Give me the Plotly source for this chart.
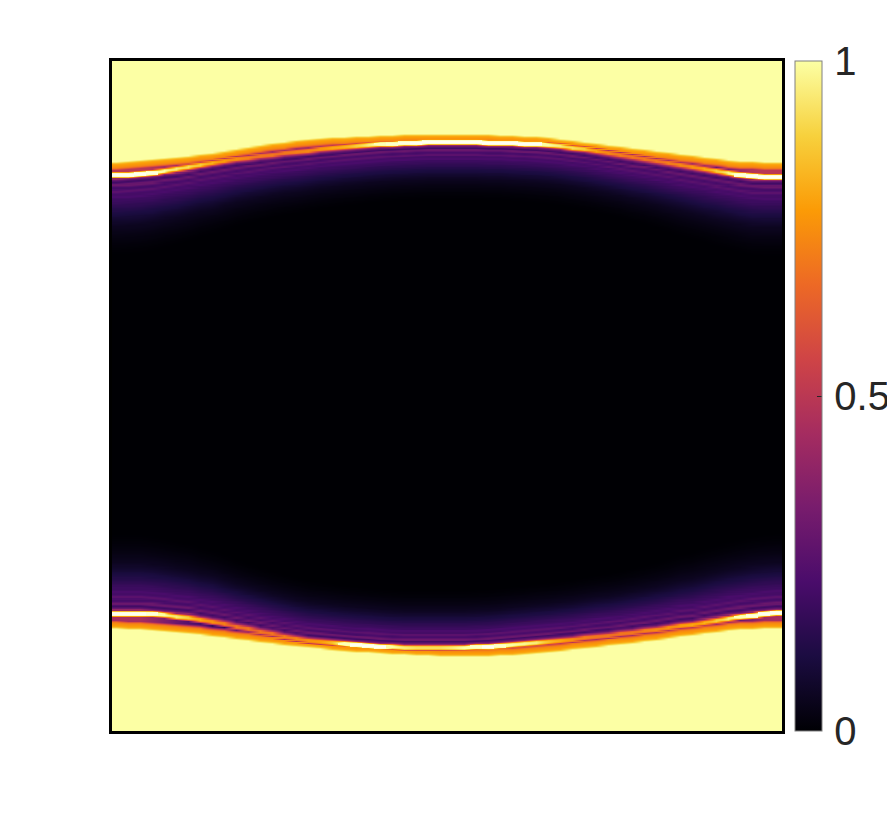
import plotly.graph_objects as go

# columns of the map, one every 12 px, values in pixel coordinates
x_cols = list(range(116, 788, 12))
y_rows = list(range(59, 733))

top_edge = [161.5, 161, 160, 159, 158, 157, 155.5, 154,
	152.5, 150.5, 148.5, 146.5, 144.5, 143, 141.5, 140,
	139, 138, 137, 136.5, 136, 135.5, 135, 134.5,
	134, 134, 133.5, 133.5, 133.5, 133.5, 133.5, 134,
	134.5, 135, 135.5, 136, 137, 138.5, 140, 141.5,
	143, 144.5, 146, 147.5, 149, 150.5, 152, 153.5,
	155, 156.5, 158, 159.5, 160.5, 161, 161.5, 161.5]
top_line = [174, 173.5, 172.5, 171.5, 169.5, 168, 166, 164,
	162, 160, 158, 156.5, 155, 153.5, 152, 151,
	149.5, 148, 147, 146, 145, 144, 143, 142.5,
	142, 141.5, 141, 141, 141, 141, 141, 141.5,
	141.5, 142, 142.5, 143, 144, 145, 146.5, 148,
	150, 152, 154, 156, 157.5, 159.5, 161.5, 163.5,
	165.5, 167.5, 169.5, 171.5, 173.5, 175, 175.5, 175.5]
top_peak = [1.2, 1.2, 1.2, 1.15, 1.0, 0.95, 0.92, 0.88,
	0.82, 0.78, 0.75, 0.72, 0.7, 0.7, 0.7, 0.72,
	0.74, 0.76, 0.8, 0.82, 0.88, 0.95, 1.05, 1.1,
	1.15, 1.2, 1.2, 1.2, 1.2, 1.2, 1.2, 1.2,
	1.2, 1.2, 1.2, 1.2, 1.0, 0.95, 0.92, 0.88,
	0.8, 0.74, 0.72, 0.7, 0.7, 0.7, 0.72, 0.74,
	0.76, 0.8, 0.88, 0.97, 1.15, 1.2, 1.2, 1.2]
top_valley = [0.5, 0.5, 0.5, 0.48, 0.45, 0.42, 0.36, 0.3,
	0.25, 0.2, 0.18, 0.16, 0.15, 0.15, 0.15, 0.16,
	0.18, 0.2, 0.24, 0.28, 0.33, 0.38, 0.4, 0.42,
	0.44, 0.45, 0.45, 0.45, 0.45, 0.45, 0.45, 0.42,
	0.38, 0.34, 0.3, 0.24, 0.2, 0.17, 0.15, 0.14,
	0.13, 0.13, 0.13, 0.13, 0.13, 0.14, 0.16, 0.18,
	0.2, 0.24, 0.28, 0.35, 0.42, 0.48, 0.5, 0.5]

bottom_edge = [628.5, 629, 629.5, 630, 631, 632, 633, 634.5,
	636, 637.5, 639, 640.5, 642, 643.5, 645, 646,
	647.5, 648.5, 650, 651, 652, 652.5, 653.5, 654,
	654.5, 655, 655.5, 656, 656.5, 656.5, 656.5, 656,
	655.5, 655, 654, 653, 652, 651, 649.5, 648.5,
	647, 645.5, 644.5, 643, 641.5, 640, 638.5, 636.5,
	635, 633, 632, 630.5, 629.5, 629, 628.5, 628.5]
bottom_line = [614, 614, 614, 614.5, 615.5, 617, 618, 620,
	622, 624.5, 627, 629.5, 632, 634.5, 637, 639.5,
	641.5, 642.5, 643.5, 644.5, 645.5, 646, 647, 647.5,
	648, 648, 648, 648, 648, 648, 647.5, 647,
	646, 645, 644, 643, 642, 641, 640, 638.5,
	637, 636, 634.5, 633, 631.5, 630, 628.5, 626.5,
	625, 623, 621, 619, 617.5, 616, 614.5, 613.5]
bottom_peak = [1.2, 1.2, 1.2, 1.15, 1.0, 0.95, 0.88, 0.8,
	0.76, 0.72, 0.7, 0.7, 0.7, 0.7, 0.72, 0.74,
	0.76, 0.78, 0.85, 1.05, 1.2, 1.2, 1.2, 1.0,
	0.95, 0.92, 0.92, 0.92, 0.95, 1.0, 1.1, 1.2,
	1.1, 1.0, 0.98, 0.95, 0.85, 0.8, 0.75, 0.72,
	0.7, 0.7, 0.7, 0.7, 0.72, 0.74, 0.76, 0.78,
	0.8, 0.82, 0.88, 0.95, 1.05, 1.15, 1.2, 1.2]
bottom_valley = [0.45, 0.45, 0.45, 0.4, 0.35, 0.3, 0.25, 0.22,
	0.18, 0.16, 0.15, 0.15, 0.15, 0.16, 0.2, 0.25,
	0.3, 0.33, 0.36, 0.38, 0.4, 0.42, 0.43, 0.44,
	0.45, 0.45, 0.45, 0.45, 0.45, 0.45, 0.45, 0.42,
	0.38, 0.34, 0.28, 0.24, 0.2, 0.17, 0.15, 0.14,
	0.13, 0.13, 0.13, 0.13, 0.13, 0.14, 0.15, 0.16,
	0.18, 0.2, 0.22, 0.26, 0.3, 0.36, 0.42, 0.45]

# how far the purple tail reaches into the dark middle, per column
tail_reach = [1.1, 1.1, 1.1, 1.08, 1.06, 1.04, 1.02, 1,
	0.98, 0.95, 0.92, 0.9, 0.88, 0.86, 0.85, 0.84,
	0.83, 0.82, 0.81, 0.8, 0.8, 0.79, 0.79, 0.78,
	0.78, 0.78, 0.78, 0.78, 0.78, 0.78, 0.78, 0.78,
	0.78, 0.79, 0.79, 0.8, 0.8, 0.81, 0.82, 0.83,
	0.84, 0.85, 0.86, 0.88, 0.9, 0.92, 0.95, 0.98,
	1, 1.02, 1.04, 1.06, 1.08, 1.1, 1.1, 1.1]

# profiles across the interface, one value per pixel of depth
outer_band = [0.95, 0.86, 0.8, 0.78, 0.76, 0.74, 0.7, 0.6, 0.45, 0.3]
line_shape = [0.65, 0.92, 1.0, 1.0, 0.95, 0.7]
tail = [0.4, 0.29, 0.24, 0.2, 0.23, 0.29, 0.3, 0.26, 0.22, 0.21, 0.23, 0.26, 0.26, 0.23, 0.21, 0.21,
	0.22, 0.22, 0.2, 0.19, 0.19, 0.18, 0.18, 0.17, 0.16, 0.155, 0.15, 0.14, 0.135, 0.13, 0.12, 0.115,
	0.11, 0.105, 0.1, 0.09, 0.085, 0.08, 0.075, 0.07, 0.065, 0.06, 0.055, 0.05, 0.048, 0.045, 0.042, 0.04,
	0.037, 0.034, 0.031, 0.028, 0.026, 0.024, 0.022, 0.02, 0.018, 0.016, 0.014, 0.012, 0.01, 0.009,
	0.008, 0.006, 0.005, 0.004, 0.003, 0.002, 0.001]

tick_vals = [0, 0.5, 1]
tick_text = ["\u200a0", "\u200a0.5", "\u200a1"]


def cell(depth_edge, depth_line, peak, valley, reach):
	if depth_edge < 0:
		return 1.0
	if depth_line < -2:
		i = int(depth_edge)
		return max(outer_band[i], valley) if i < len(outer_band) else valley
	if depth_line < 4:
		return max(line_shape[int(depth_line + 2)] * peak, 0.3)
	i = int((depth_line - 4) / reach)
	return tail[i] if i < len(tail) else 0.0


z = []
for y in y_rows:
	row = []
	for c in range(len(x_cols)):
		if y < 396:
			row.append(cell(y - top_edge[c], y - top_line[c], top_peak[c], top_valley[c], tail_reach[c]))
		else:
			row.append(cell(bottom_edge[c] - y, bottom_line[c] - y, bottom_peak[c], bottom_valley[c], tail_reach[c]))
	z.append(row)

# the brightest line runs past the top of the colour scale and goes near white
z_hot = [[v if v > 1 else None for v in row] for row in z]

fig = go.Figure()
fig.add_trace(go.Heatmap(
	x=x_cols, y=y_rows, z=z,
	zmin=0, zmax=1,
	zsmooth="best",
	colorscale="Inferno",
	hoverinfo="skip",
	colorbar=dict(
		thickness=27, thicknessmode="pixels",
		len=1.0, lenmode="fraction",
		x=1.0194, xanchor="left", xpad=0,
		y=0.5, yanchor="middle", ypad=0,
		outlinecolor="#808080", outlinewidth=1,
		tickmode="array", tickvals=tick_vals, ticktext=tick_text,
		ticks="inside", ticklen=5, tickwidth=1, tickcolor="#262626",
		tickfont=dict(family="Liberation Sans", size=40, color="#262626"),
	),
))
fig.add_trace(go.Heatmap(
	x=x_cols, y=y_rows, z=z_hot,
	zmin=1, zmax=1.2,
	colorscale=[[0, "#fcffa4"], [1, "#fffff2"]],
	showscale=False,
	hoverinfo="skip",
))

fig.update_xaxes(range=[112, 782], showticklabels=False, ticks="", showgrid=False, zeroline=False,
	showline=True, mirror=True, linecolor="black", linewidth=3)
fig.update_yaxes(range=[731, 61], showticklabels=False, ticks="", showgrid=False, zeroline=False,
	showline=True, mirror=True, linecolor="black", linewidth=3)
# a little wider than the window so the colorbar labels do not squeeze the plot area
fig.update_layout(
	width=910, height=818,
	margin=dict(l=104, r=136, t=53, b=95),
	paper_bgcolor="white", plot_bgcolor="white",
	showlegend=False,
)

fig.write_html("out.html")
